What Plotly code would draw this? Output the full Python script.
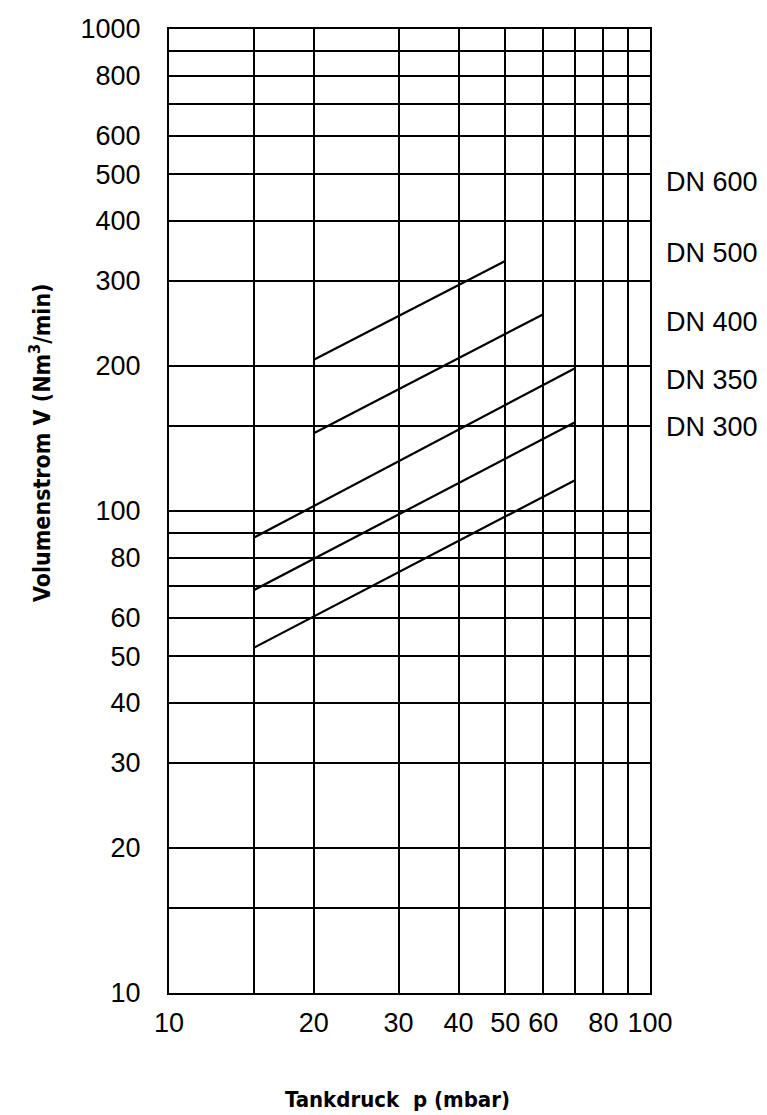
import plotly.graph_objects as go

# Data: Tankdruck p (mbar) vs Volumenstrom V (Nm3/min)
series_names = ["DN 600", "DN 500", "DN 400", "DN 350", "DN 300"]
p_dn600 = [20, 50]
v_dn600 = [206, 330]
p_dn500 = [20, 60]
v_dn500 = [145, 256]
p_dn400 = [15, 70]
v_dn400 = [88, 198]
p_dn350 = [15, 70]
v_dn350 = [68.5, 153]
p_dn300 = [15, 70]
v_dn300 = [52, 116]

x_tickvals = [10, 20, 30, 40, 50, 60, 80, 100]
x_ticktext = ["10", "20", "30", "40", "50", "60", "80", "100"]
x_minor_vals = [15, 70, 90]
y_tickvals = [10, 20, 30, 40, 50, 60, 80, 100, 200, 300, 400, 500, 600, 800, 1000]
y_ticktext = ["10", "20", "30", "40", "50", "60", "80", "100",
              "200", "300", "400", "500", "600", "800", "1000"]
y_minor_vals = [15, 70, 90, 150, 700, 900]

label_ypix = [182, 253, 322, 380, 427]

W, H = 767, 1115
L, R, T, B = 169, 650, 29, 993

fig = go.Figure()
for name, xs, ys in zip(series_names,
                        [p_dn600, p_dn500, p_dn400, p_dn350, p_dn300],
                        [v_dn600, v_dn500, v_dn400, v_dn350, v_dn300]):
    fig.add_trace(go.Scatter(x=xs, y=ys, mode="lines", name=name,
                             line=dict(color="black", width=2.2),
                             showlegend=False))

tick_font = dict(family="Liberation Sans, Arial, sans-serif", size=27, color="black")
xtitle_font = dict(family="Liberation Sans Narrow, Arial Narrow, DejaVu Sans Condensed, Liberation Sans, sans-serif",
                   size=22, color="black")
ytitle_font = dict(family="Liberation Sans Narrow, Arial Narrow, DejaVu Sans Condensed, Liberation Sans, sans-serif",
                   size=23, color="black")

grid = dict(showgrid=True, gridcolor="black", gridwidth=1.6)
fig.update_xaxes(type="log", range=[1, 2], tickmode="array", tickvals=x_tickvals, ticktext=x_ticktext,
                 minor=dict(tickmode="array", tickvals=x_minor_vals, ticks="", **grid),
                 showline=True, linecolor="black", linewidth=2, mirror=True,
                 ticks="", tickfont=tick_font, ticklabelstandoff=5, zeroline=False, **grid)
fig.update_yaxes(type="log", range=[1, 3], tickmode="array", tickvals=y_tickvals, ticktext=y_ticktext,
                 minor=dict(tickmode="array", tickvals=y_minor_vals, ticks="", **grid),
                 showline=True, linecolor="black", linewidth=2, mirror=True,
                 ticks="", tickfont=tick_font, ticklabelstandoff=21, zeroline=False, **grid)

annotations = []
for name, yp in zip(series_names, label_ypix):
    annotations.append(dict(text=name, xref="paper", yref="paper",
                            x=(664 - L) / (R - L), y=(B - yp) / (B - T),
                            xanchor="left", yanchor="middle", showarrow=False,
                            font=tick_font))
annotations.append(dict(text="<b>Tankdruck  p (mbar)</b>", xref="paper", yref="paper",
                        x=(397 - L) / (R - L), y=(B - 1099) / (B - T),
                        xanchor="center", yanchor="middle", showarrow=False,
                        font=xtitle_font))
annotations.append(dict(text="<b>Volumenstrom V (Nm<sup>3</sup>/min)</b>", xref="paper", yref="paper",
                        x=(40 - L) / (R - L), y=(B - 443) / (B - T),
                        xanchor="center", yanchor="middle", showarrow=False,
                        textangle=-90, font=ytitle_font))

fig.update_layout(width=W, height=H,
                  margin=dict(l=L, r=W - R, t=T, b=H - B, autoexpand=False),
                  paper_bgcolor="white", plot_bgcolor="white",
                  annotations=annotations, showlegend=False)

fig.write_html("out.html", config={"displayModeBar": False},
               post_script="document.body.style.margin='0';")
